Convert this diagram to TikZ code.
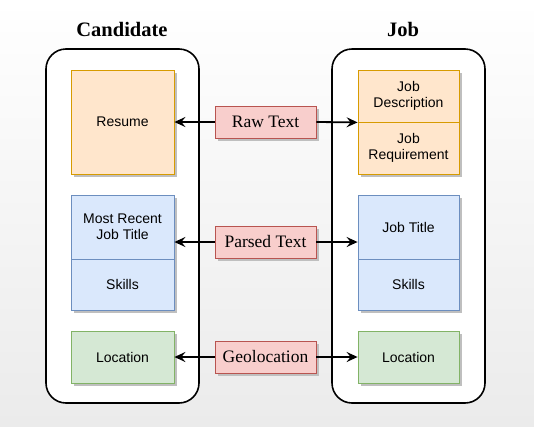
\documentclass[tikz,border=0pt]{standalone}
\usepackage{fontspec}
\setmainfont{Liberation Serif}
\newfontfamily\boxfont{Liberation Sans}
\usetikzlibrary{arrows.meta,shadows}
\definecolor{orfill}{HTML}{FFE6CC}\definecolor{ordraw}{HTML}{D79B00}
\definecolor{blfill}{HTML}{DAE8FC}\definecolor{bldraw}{HTML}{6C8EBF}
\definecolor{grfill}{HTML}{D5E8D4}\definecolor{grdraw}{HTML}{82B366}
\definecolor{rdfill}{HTML}{F8CECC}\definecolor{rddraw}{HTML}{B85450}
\definecolor{bgbot}{HTML}{EBEBEB}
\begin{document}
\begin{tikzpicture}[x=1pt,y=-1pt,
  container/.style={draw=black,line width=1.6pt,fill=white,rounded corners=20pt},
  item/.style={line width=0.8pt,font=\boxfont\fontsize{14}{16}\selectfont,align=center,
    drop shadow={shadow xshift=3pt,shadow yshift=-3pt,fill=black!25,opacity=1}},
  orbox/.style={item,fill=orfill,draw=ordraw},
  blbox/.style={item,fill=blfill,draw=bldraw},
  grbox/.style={item,fill=grfill,draw=grdraw},
  label/.style={draw=rddraw,fill=rdfill,line width=0.8pt,minimum width=101pt,minimum height=32pt,
    inner sep=0pt,font=\fontsize{17.5}{19}\selectfont,
    drop shadow={shadow xshift=3pt,shadow yshift=-3pt,fill=black!25,opacity=1}},
  conn/.style={line width=1.8pt,-{Stealth[length=11pt,width=10pt,inset=4pt]}},
  title/.style={font=\bfseries\fontsize{20.5}{22}\selectfont}
]
\useasboundingbox (0,0) rectangle (534,426);
\shade[top color=white,bottom color=bgbot] (0,0) rectangle (534,426);
% titles
\node[title] (tc) at (122,29) {Candidate};
\node[title] (tj) at (403,29) {Job};
% containers
\draw[container] (46,49) rectangle (199,403);
\draw[container] (332,49) rectangle (485,403);
% candidate boxes
\node[orbox,minimum width=103pt,minimum height=104pt,inner sep=0pt] (resume) at (122.5,122) {Resume};
\node[blbox,minimum width=103pt,minimum height=64pt,inner sep=0pt] (mrjt) at (122.5,227) {Most Recent\\Job Title};
\node[blbox,minimum width=103pt,minimum height=51pt,inner sep=0pt] (cskills) at (122.5,284.5) {Skills};
\node[grbox,minimum width=103pt,minimum height=52pt,inner sep=0pt] (cloc) at (122.5,357) {Location};
% job boxes
\node[orbox,minimum width=101pt,minimum height=52pt,inner sep=0pt] (jdesc) at (408.5,96) {Job\\Description};
\node[orbox,minimum width=101pt,minimum height=52pt,inner sep=0pt] (jreq) at (408.5,148) {Job\\Requirement};
\node[blbox,minimum width=101pt,minimum height=64pt,inner sep=0pt] (jtitle) at (408.5,227) {Job Title};
\node[blbox,minimum width=101pt,minimum height=51pt,inner sep=0pt] (jskills) at (408.5,284.5) {Skills};
\node[grbox,minimum width=101pt,minimum height=52pt,inner sep=0pt] (jloc) at (408.5,357) {Location};
% labels
\node[label] (raw) at (265.5,122) {Raw Text};
\node[label] (parsed) at (265.5,242) {Parsed Text};
\node[label] (geo) at (265.5,357) {Geolocation};
% connectors
\draw[conn] (raw.west) -- (resume.east);
\draw[conn] (raw.east) -- (jdesc.south west);
\draw[conn,line width=2.6pt] (parsed.west) -- (parsed.west -| mrjt.east);
\draw[conn,line width=2.6pt] (parsed.east) -- (parsed.east -| jtitle.west);
\draw[conn] (geo.west) -- (cloc.east);
\draw[conn] (geo.east) -- (jloc.west);
\end{tikzpicture}
\end{document}
